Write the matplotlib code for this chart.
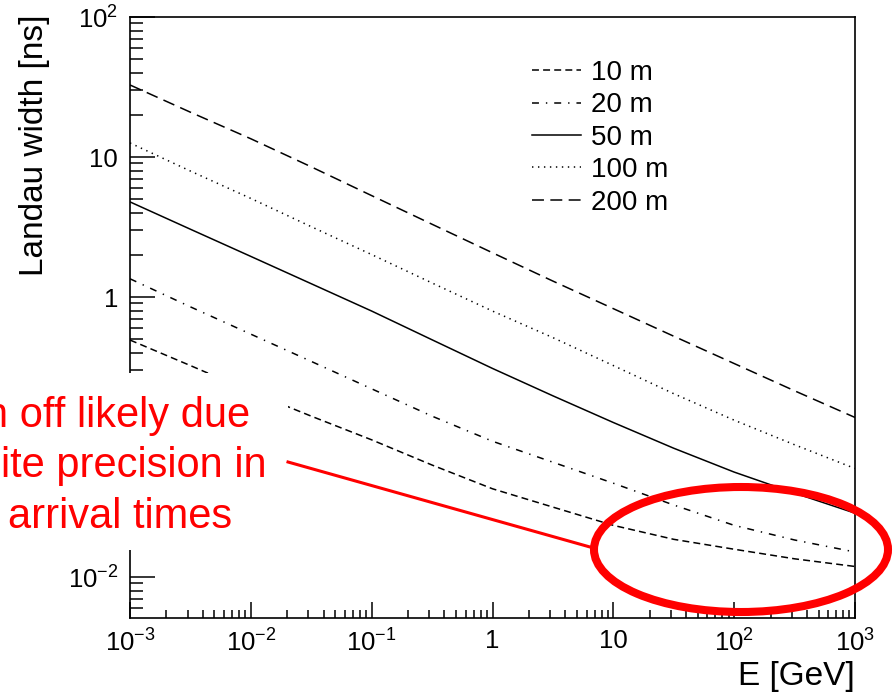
import matplotlib
matplotlib.use("Agg")
import matplotlib.pyplot as plt
from matplotlib.patches import Rectangle, Ellipse
from matplotlib.lines import Line2D

plt.rcParams["font.family"] = ["Liberation Sans", "DejaVu Sans"]
plt.rcParams["mathtext.fontset"] = "custom"
plt.rcParams["mathtext.rm"] = "Liberation Sans"
plt.rcParams["mathtext.it"] = "Liberation Sans"
plt.rcParams["lines.scale_dashes"] = False

# energia en GeV (medias decadas), anchura Landau en ns
energia = [1e-3, 3.16e-3, 1e-2, 3.16e-2, 1e-1, 0.316, 1, 3.16, 10, 31.6, 1e2, 316, 1e3]
ancho_10m = [0.493, 0.324, 0.211, 0.141, 0.0955, 0.0631, 0.0427, 0.0316, 0.0234, 0.0186, 0.0158, 0.0135, 0.0119]
ancho_20m = [1.35, 0.851, 0.543, 0.347, 0.221, 0.141, 0.0933, 0.0661, 0.0468, 0.0327, 0.0234, 0.0184, 0.0151]
ancho_50m = [4.78, 3.05, 1.95, 1.245, 0.794, 0.495, 0.309, 0.197, 0.127, 0.0832, 0.0562, 0.0398, 0.0286]
ancho_100m = [12.6, 7.94, 5.06, 3.18, 2.01, 1.26, 0.794, 0.513, 0.324, 0.204, 0.132, 0.0881, 0.0596]
ancho_200m = [32.7, 20.9, 13.5, 8.51, 5.30, 3.31, 2.07, 1.30, 0.826, 0.525, 0.335, 0.214, 0.138]
etiquetas = ["10 m", "20 m", "50 m", "100 m", "200 m"]

xticks = [1e-3, 1e-2, 1e-1, 1, 10, 1e2, 1e3]
xlabels = ["$10^{-3}$", "$10^{-2}$", "$10^{-1}$", "1", "10", "$10^{2}$", "$10^{3}$"]
yticks = [1e-2, 1e-1, 1, 10, 1e2]
ylabels = ["$10^{-2}$", "$10^{-1}$", "1", "10", "$10^{2}$"]

fig = plt.figure(figsize=(8.94, 6.93), dpi=100)
ax = fig.add_axes([130/894, 1-618/693, 725/894, 601/693])

estilos = [
    dict(dashes=(5, 3)),
    dict(dashes=(5, 5, 1, 5)),
    dict(linestyle="-"),
    dict(dashes=(1, 3.3)),
    dict(dashes=(8.6, 4.6)),
]
series = [ancho_10m, ancho_20m, ancho_50m, ancho_100m, ancho_200m]
for datos, est, lab in zip(series, estilos, etiquetas):
    ax.plot(energia, datos, color="black", linewidth=1.1, label=lab, **est)

ax.set_xscale("log")
ax.set_yscale("log")
ax.set_xlim(1e-3, 1e3)
ax.set_ylim(0.0051, 100)
ax.set_xticks(xticks)
ax.set_xticklabels(xlabels)
ax.set_yticks(yticks)
ax.set_yticklabels(ylabels)
ax.tick_params(axis="x", which="major", direction="in", length=11.5, width=1.1, labelsize=18.5, pad=8)
ax.tick_params(axis="x", which="minor", direction="in", length=5.8, width=1.1)
ax.tick_params(axis="y", which="major", direction="in", length=18, width=1.1, labelsize=18.5, pad=8.5)
ax.tick_params(axis="y", which="minor", direction="in", length=9.4, width=1.1)
ax.tick_params(which="both", top=False, right=False)
ax.yaxis.set_minor_formatter(matplotlib.ticker.NullFormatter())
ax.xaxis.set_minor_formatter(matplotlib.ticker.NullFormatter())
for s in ax.spines.values():
    s.set_linewidth(1.2)

ax.legend(loc="upper left", bbox_to_anchor=(532/894, 1-60/693), bbox_transform=fig.transFigure,
          frameon=False, fontsize=20, handlelength=1.75, handletextpad=0.36,
          labelspacing=0.23, borderpad=0, borderaxespad=0)

fig.text(35/894, 1-15/693, "Landau width [ns]", rotation=90, ha="center", va="top", fontsize=24)
fig.text(855/894, 1-685/693, "E [GeV]", ha="right", va="baseline", fontsize=24)

# recuadro blanco de la anotacion
fig.add_artist(Rectangle((0, 1-550/693), 288/894, 177/693, transform=fig.transFigure,
                         facecolor="white", edgecolor="none", zorder=5))
fig.text(250/894, 1-427/693, "n off likely due", ha="right", va="baseline", fontsize=30, color="red", zorder=6)
fig.text(267/894, 1-477/693, "ite precision in", ha="right", va="baseline", fontsize=30, color="red", zorder=6)
fig.text(232/894, 1-528/693, "arrival times", ha="right", va="baseline", fontsize=30, color="red", zorder=6)

fig.add_artist(Line2D([288/894, 590/894], [1-462/693, 1-547/693], transform=fig.transFigure,
                      color="red", linewidth=2.2, zorder=6))
fig.add_artist(Ellipse((741/894, 1-549.5/693), 294/894, 125/693, transform=fig.transFigure,
                       facecolor="none", edgecolor="red", linewidth=5.8, zorder=6))

fig.savefig("out.png", dpi=100)
